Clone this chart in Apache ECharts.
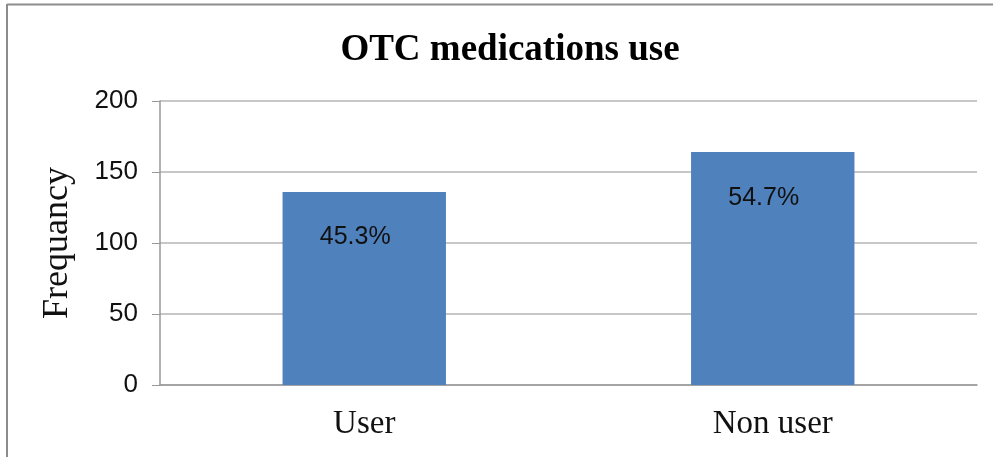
<!DOCTYPE html>
<html>
<head>
<meta charset="utf-8">
<script src="https://cdn.jsdelivr.net/npm/echarts@6/dist/echarts.min.js"></script>
<style>html,body{margin:0;padding:0;background:#fff}#c{width:993px;height:457px}</style>
</head>
<body>
<div id="c"></div>
<script>
const categories = ['User', 'Non user'];
const frequency = [136, 164];
const percentLabels = ['45.3%', '54.7%'];
const yTicks = { min: 0, max: 200, interval: 50 };

const chart = echarts.init(document.getElementById('c'));
chart.setOption({
  animation: false,
  backgroundColor: '#fff',
  title: {
    text: 'OTC medications use',
    left: 505, top: 27, textAlign: 'center',
    textStyle: { fontFamily: 'Liberation Serif', fontWeight: 'bold', fontSize: 37, color: '#000' }
  },
  graphic: [
    { type: 'line', shape: { x1: 7, y1: 4.5, x2: 993, y2: 4.5 }, style: { stroke: '#8c8c8c', lineWidth: 2 } },
    { type: 'line', shape: { x1: 7, y1: 4, x2: 7, y2: 457 }, style: { stroke: '#8c8c8c', lineWidth: 2 } }
  ],
  grid: { left: 160, right: 16, top: 101, bottom: 72 },
  xAxis: {
    type: 'category', data: categories,
    axisLine: { lineStyle: { color: '#999', width: 1.5 } },
    axisTick: { show: false },
    axisLabel: { fontFamily: 'Liberation Serif', fontSize: 33, color: '#111', margin: 23 }
  },
  yAxis: {
    type: 'value', min: yTicks.min, max: yTicks.max, interval: yTicks.interval,
    name: 'Frequancy', nameLocation: 'middle', nameGap: 84, nameRotate: 90,
    nameTextStyle: { fontFamily: 'Liberation Serif', fontSize: 36, color: '#111' },
    axisLine: { show: true, lineStyle: { color: '#999', width: 1.5 } },
    axisTick: { show: true, length: 8, lineStyle: { color: '#999' } },
    axisLabel: { fontFamily: 'Liberation Sans', fontSize: 26, color: '#111', margin: 22 },
    splitLine: { lineStyle: { color: '#b4b4b4', width: 1.5 } }
  },
  series: [{
    type: 'bar', data: frequency, barWidth: '40%',
    itemStyle: { color: '#4f81bd' },
    label: {
      show: true, position: 'insideTop', distance: 33, offset: [-9, 0],
      fontFamily: 'Liberation Sans', fontSize: 25, color: '#111',
      formatter: p => percentLabels[p.dataIndex]
    }
  }]
});
</script>
</body>
</html>
